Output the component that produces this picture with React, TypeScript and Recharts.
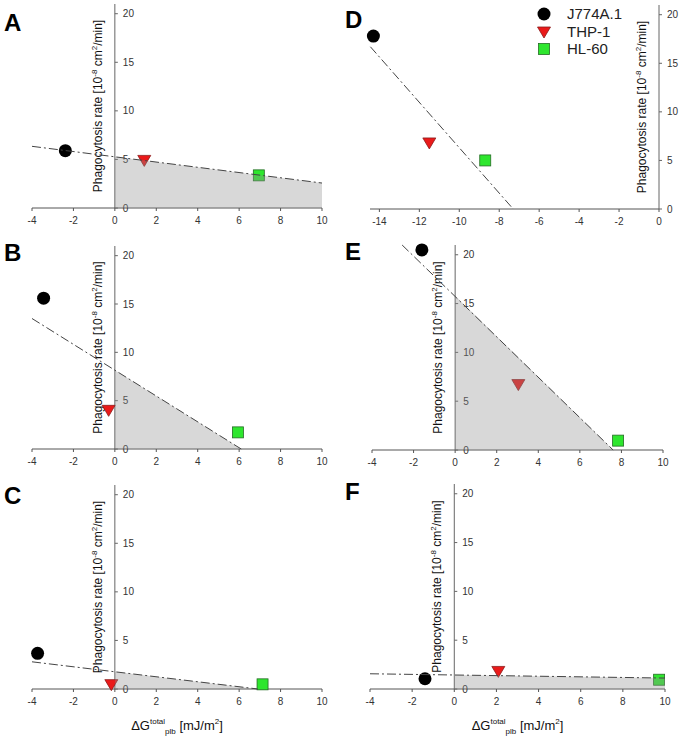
import React from 'react';
import { ComposedChart, XAxis, YAxis, Line, Area, Scatter, ReferenceLine, ReferenceDot } from 'recharts';

const cellLines = ['J774A.1', 'THP-1', 'HL-60'];
const yTicks = [0, 5, 10, 15, 20];
const xTicksMain = [-4, -2, 0, 2, 4, 6, 8, 10];
const xTicksD = [-14, -12, -10, -8, -6, -4, -2, 0];

// points in cellLines order, fit line ends, shaded region ends
const aX = [-2.39, 1.42, 6.95];
const aY = [5.9, 4.9, 3.36];
const aFitX = [-4, 10];
const aFitY = [6.35, 2.57];
const aShadeX = [0, 10];
const aShadeY = [5.27, 2.57];

const bX = [-3.44, -0.3, 5.94];
const bY = [15.6, 4.0, 1.72];
const bFitX = [-4, 6.1];
const bFitY = [13.5, 0];
const bShadeX = [0, 6.1];
const bShadeY = [8.15, 0];

const cX = [-3.73, -0.17, 7.13];
const cY = [3.67, 0.45, 0.48];
const cFitX = [-4, 6.9];
const cFitY = [2.8, 0];
const cShadeX = [0, 6.9];
const cShadeY = [1.77, 0];

const dX = [-14.3, -11.5, -8.7];
const dY = [17.8, 6.8, 5.0];
const dFitX = [-14.45, -7.3];
const dFitY = [16.7, 0];

const eX = [-1.6, 3.04, 7.84];
const eY = [20.5, 6.7, 0.96];
const eFitX = [-2.55, 7.6];
const eFitY = [21, 0];
const eShadeX = [0, 7.6];
const eShadeY = [15.8, 0];

const fX = [-1.39, 2.09, 9.72];
const fY = [1.05, 1.8, 0.95];
const fFitX = [-4, 10];
const fFitY = [1.56, 1.12];
const fShadeX = [0, 10];
const fShadeY = [1.43, 1.12];

const FONT = "'Liberation Sans', Arial, sans-serif";
const toPts = (xs: number[], ys: number[]) => xs.map((x, i) => ({ x, y: ys[i] }));

const circle = (p: any) => <circle cx={p.cx} cy={p.cy} r={6.5} fill="#000" />;
const triangle = (p: any) => (
  <path
    d={`M${p.cx - 6.5},${p.cy - 5} L${p.cx + 6.5},${p.cy - 5} L${p.cx},${p.cy + 6} Z`}
    fill="#ea1a1a"
    stroke="#8a1c1c"
    strokeWidth={0.8}
  />
);
const square = (p: any) => (
  <rect x={p.cx - 5.5} y={p.cy - 5.5} width={11} height={11} fill="#2ee62e" stroke="#256b25" strokeWidth={0.8} />
);
const shapes = [circle, triangle, square];

const yTickShape = (v: number) => (p: any) => (
  <g>
    <line x1={p.cx} x2={p.cx + 3} y1={p.cy} y2={p.cy} stroke="#666" />
    <text x={p.cx + 8} y={p.cy} dy="0.35em" fontSize={10} fill="#333" fontFamily={FONT}>
      {v}
    </text>
  </g>
);

const YTitle = (props: any) => {
  const vb = props.viewBox;
  if (!vb) return null;
  const cx = vb.x - 17;
  const cy = vb.y + vb.height / 2;
  return (
    <text
      x={cx}
      y={cy}
      transform={`rotate(-90, ${cx}, ${cy})`}
      textAnchor="middle"
      dy="0.35em"
      fontSize={12}
      fill="#111"
      fontFamily={FONT}
    >
      Phagocytosis rate [10
      <tspan fontSize={8} dy={-5}>-8</tspan>
      <tspan dy={5}> cm</tspan>
      <tspan fontSize={8} dy={-5}>2</tspan>
      <tspan dy={5}>/min]</tspan>
    </text>
  );
};

const XTitle = (props: any) => {
  const vb = props.viewBox;
  if (!vb) return null;
  const cx = vb.x + vb.width / 2;
  const y = vb.y + 41;
  return (
    <text x={cx} y={y} textAnchor="middle" fontSize={13} fill="#111" fontFamily={FONT}>
      ΔG
      <tspan fontSize={8} fill="#111" dy={-6}>total</tspan>
      <tspan fontSize={8} fill="#111" dy={10}>plb</tspan>
      <tspan fill="#111" dy={-4}> [mJ/m</tspan>
      <tspan fontSize={8} fill="#111" dy={-6}>2</tspan>
      <tspan fill="#111" dy={6}>]</tspan>
    </text>
  );
};

type PanelProps = {
  letter: string;
  letterPos: [number, number];
  box: { left: number; right: number; top: number; bottom: number };
  xs: number[];
  ys: number[];
  fitX: number[];
  fitY: number[];
  shadeX?: number[];
  shadeY?: number[];
  domain: [number, number];
  ticks: number[];
  xTitle?: boolean;
};

const Panel = ({ letter, letterPos, box, xs, ys, fitX, fitY, shadeX, shadeY, domain, ticks, xTitle }: PanelProps) => {
  const ml = 12;
  const mr = 28;
  const mt = 4;
  const axisH = xTitle ? 48 : 24;
  const w = box.right - box.left + ml + mr;
  const h = box.bottom - box.top + mt + axisH;
  return (
    <>
      <div
        style={{
          position: 'absolute',
          left: letterPos[0],
          top: letterPos[1] - 4,
          fontFamily: FONT,
          fontWeight: 'bold',
          fontSize: 24,
          lineHeight: '24px',
          color: '#000',
        }}
      >
        {letter}
      </div>
      <div style={{ position: 'absolute', left: box.left - ml, top: box.top - mt }}>
        <ComposedChart width={w} height={h} margin={{ top: mt, right: mr, bottom: 0, left: ml }}>
          <XAxis
            dataKey="x"
            type="number"
            domain={domain}
            ticks={ticks}
            height={axisH}
            tickSize={3}
            tickMargin={6}
            stroke="#555"
            tick={{ fontSize: 10, fill: '#333', fontFamily: FONT }}
            label={xTitle ? <XTitle /> : undefined}
          />
          <YAxis dataKey="y" type="number" domain={[0, 21]} hide />
          {xs.map((x, i) => (
            <Scatter
              key={cellLines[i]}
              name={cellLines[i]}
              data={[{ x, y: ys[i] }]}
              dataKey="y"
              shape={shapes[i]}
              isAnimationActive={false}
              zIndex={500}
            />
          ))}
          {shadeX && shadeY ? (
            <Area
              data={toPts(shadeX, shadeY)}
              dataKey="y"
              type="linear"
              stroke="none"
              fill="#909090"
              fillOpacity={0.35}
              isAnimationActive={false}
              zIndex={650}
            />
          ) : null}
          <Line
            data={toPts(fitX, fitY)}
            dataKey="y"
            type="linear"
            stroke="#444"
            strokeWidth={1}
            strokeDasharray="9 3 2 3"
            dot={false}
            activeDot={false}
            isAnimationActive={false}
            zIndex={700}
          />
          <ReferenceLine x={0} stroke="#666" label={<YTitle />} />
          {yTicks.map((v) => (
            <ReferenceDot key={v} x={0} y={v} r={0} shape={yTickShape(v)} />
          ))}
        </ComposedChart>
      </div>
    </>
  );
};

const Legend = () => (
  <>
    {cellLines.map((name, i) => {
      const cy = [14, 32, 49][i];
      const Shape = shapes[i];
      return (
        <div key={name}>
          <svg style={{ position: 'absolute', left: 534, top: cy - 10 }} width={20} height={20}>
            {Shape({ cx: 10, cy: 10 })}
          </svg>
          <div
            style={{
              position: 'absolute',
              left: 567,
              top: cy - 9,
              fontFamily: FONT,
              fontSize: 15,
              lineHeight: '18px',
              color: '#222',
            }}
          >
            {name}
          </div>
        </div>
      );
    })}
  </>
);

export default function App() {
  return (
    <div style={{ position: 'absolute', left: 0, top: 0, width: 683, height: 737, background: '#fff', overflow: 'hidden' }}>
      <Panel letter="A" letterPos={[4, 15]} box={{ left: 32, right: 322, top: 4, bottom: 208 }}
        xs={aX} ys={aY} fitX={aFitX} fitY={aFitY} shadeX={aShadeX} shadeY={aShadeY} domain={[-4, 10]} ticks={xTicksMain} />
      <Panel letter="B" letterPos={[4, 245]} box={{ left: 32, right: 322, top: 246, bottom: 449 }}
        xs={bX} ys={bY} fitX={bFitX} fitY={bFitY} shadeX={bShadeX} shadeY={bShadeY} domain={[-4, 10]} ticks={xTicksMain} />
      <Panel letter="C" letterPos={[4, 488]} box={{ left: 32, right: 322, top: 485, bottom: 689 }}
        xs={cX} ys={cY} fitX={cFitX} fitY={cFitY} shadeX={cShadeX} shadeY={cShadeY} domain={[-4, 10]} ticks={xTicksMain} xTitle />
      <Panel letter="D" letterPos={[345, 12]} box={{ left: 370, right: 659, top: 5, bottom: 209 }}
        xs={dX} ys={dY} fitX={dFitX} fitY={dFitY} domain={[-14.47, 0]} ticks={xTicksD} />
      <Panel letter="E" letterPos={[345, 244]} box={{ left: 372, right: 663, top: 245, bottom: 450 }}
        xs={eX} ys={eY} fitX={eFitX} fitY={eFitY} shadeX={eShadeX} shadeY={eShadeY} domain={[-4, 10]} ticks={xTicksMain} />
      <Panel letter="F" letterPos={[345, 484]} box={{ left: 370, right: 665, top: 484, bottom: 689 }}
        xs={fX} ys={fY} fitX={fFitX} fitY={fFitY} shadeX={fShadeX} shadeY={fShadeY} domain={[-4, 10]} ticks={xTicksMain} xTitle />
      <Legend />
    </div>
  );
}
